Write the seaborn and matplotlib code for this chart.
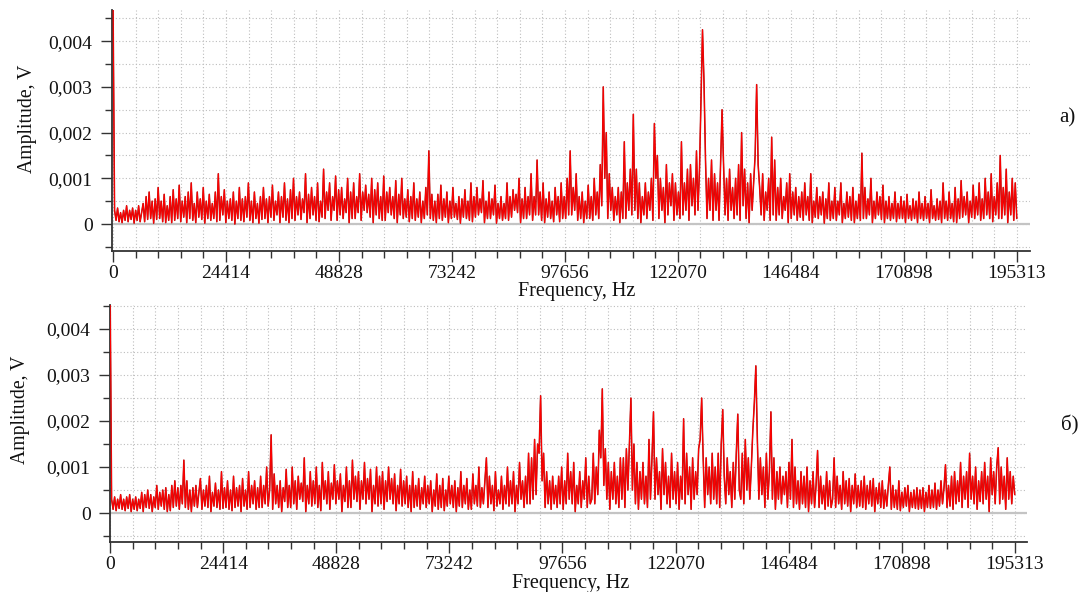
import numpy as np
import matplotlib
matplotlib.use("Agg")
import matplotlib.pyplot as plt
import seaborn as sns
from matplotlib.ticker import FixedLocator

# x axis: frequency bins 0 .. 195313 Hz, tick labels as in the original
f_max = 195313
tick_freqs = [0, 24414, 48828, 73242, 97656, 122070, 146484, 170898, 195313]
tick_freq_labels = [str(t) for t in tick_freqs]
amp_ticks = [0, 0.001, 0.002, 0.003, 0.004]
amp_tick_labels = ["0", "0,001", "0,002", "0,003", "0,004"]
panel_labels = ["a)", "б)"]

# spectrum a), amplitude in mV, evenly spaced bins (read off the picture)
amp_a_mv = [
    4.8, 0.3, 0.08, 0.35, 0.05, 0.25, 0.03, 0.3, 0.08, 0.4, 0.05, 0.3, 0.1, 0.35, 0.02, 0.3, 0.08, 0.4, 0.05, 0.25,
    0.45, 0.05, 0.6, 0.1, 0.7, 0.12, 0.5, 0.02, 0.55, 0.1, 0.8, 0.12, 0.5, 0.05, 0.65, 0.03, 0.4, 0.08, 0.6, 0.03,
    0.75, 0.08, 0.55, 0.12, 0.85, 0.05, 0.5, 0.15, 0.6, 0.03, 0.7, 0.12, 0.9, 0.08, 0.45, 0.03, 0.7, 0.15, 0.55, 0.1,
    0.8, 0.02, 0.5, 0.12, 0.65, 0.08, 0.45, 0.12, 0.7, 0.05, 1.1, 0.08, 0.6, 0.2, 0.75, 0.03, 0.5, 0.12, 0.55, 0.08,
    0.7, 0.0, 0.5, 0.12, 0.8, 0.08, 0.55, 0.05, 0.6, 0.15, 0.9, 0.08, 0.5, 0.03, 0.7, 0.12, 0.45, 0.02, 0.6, 0.1,
    0.8, 0.12, 0.55, 0.03, 0.6, 0.15, 0.85, 0.08, 0.5, 0.2, 0.7, 0.03, 0.6, 0.15, 0.9, 0.08, 0.55, 0.03, 0.75, 0.12,
    1.0, 0.08, 0.6, 0.2, 0.7, 0.1, 0.55, 0.25, 1.1, 0.03, 0.65, 0.12, 0.8, 0.2, 0.6, 0.08, 0.9, 0.05, 0.5, 0.15,
    1.2, 0.12, 0.7, 0.3, 0.9, 0.08, 0.6, 0.3, 1.05, 0.08, 0.75, 0.2, 0.8, 0.12, 0.55, 0.25, 1.0, 0.03, 0.7, 0.12,
    0.9, 0.12, 0.6, 0.25, 1.1, 0.08, 0.7, 0.3, 0.85, 0.25, 0.65, 0.15, 1.0, 0.03, 0.75, 0.2, 0.9, 0.12, 0.6, 0.08,
    1.05, 0.08, 0.7, 0.25, 0.8, 0.2, 0.6, 0.12, 0.95, 0.03, 0.65, 0.2, 1.0, 0.12, 0.55, 0.15, 0.75, 0.05, 0.6, 0.12,
    0.9, 0.08, 0.55, 0.15, 0.7, 0.03, 0.5, 0.12, 0.8, 0.2, 1.6, 0.12, 0.65, 0.08, 0.5, 0.03, 0.65, 0.12, 0.85, 0.08,
    0.55, 0.15, 0.7, 0.03, 0.5, 0.12, 0.8, 0.15, 0.45, 0.1, 0.6, 0.02, 0.55, 0.15, 0.75, 0.12, 0.5, 0.08, 0.9, 0.05,
    0.6, 0.15, 0.8, 0.2, 0.55, 0.25, 0.95, 0.03, 0.5, 0.12, 0.7, 0.12, 0.55, 0.2, 0.85, 0.02, 0.45, 0.12, 0.6, 0.08,
    0.45, 0.12, 0.9, 0.08, 0.6, 0.15, 0.75, 0.3, 0.65, 0.25, 1.0, 0.03, 0.55, 0.12, 0.8, 0.12, 0.6, 0.2, 1.1, 0.08,
    0.6, 0.2, 1.4, 0.2, 0.7, 0.08, 0.9, 0.03, 0.55, 0.15, 0.7, 0.12, 0.5, 0.05, 0.8, 0.2, 0.6, 0.05, 0.9, 0.12,
    0.6, 0.12, 1.0, 0.2, 1.6, 0.2, 0.8, 0.3, 1.1, 0.08, 0.6, 0.12, 0.7, 0.03, 0.5, 0.12, 0.85, 0.12, 0.6, 0.08,
    1.0, 0.2, 0.7, 0.12, 1.3, 0.4, 3.0, 1.0, 2.0, 0.12, 1.1, 0.3, 0.8, 0.08, 0.6, 0.2, 0.8, 0.03, 0.7, 0.12,
    1.8, 0.12, 0.9, 0.3, 1.2, 0.2, 2.4, 0.3, 1.2, 0.12, 0.9, 0.03, 0.6, 0.2, 0.9, 0.12, 0.7, 0.3, 1.0, 0.08,
    2.2, 1.0, 1.5, 0.12, 1.0, 0.3, 0.8, 0.03, 1.3, 0.2, 0.9, 0.4, 1.1, 0.08, 0.9, 0.2, 0.7, 0.12, 1.8, 0.2,
    0.9, 0.3, 1.2, 0.08, 1.3, 0.4, 1.0, 0.2, 1.6, 0.3, 1.2, 2.7, 4.25, 3.1, 1.4, 0.12, 1.0, 0.3, 1.4, 0.08,
    1.1, 0.3, 0.9, 0.08, 1.3, 2.5, 1.3, 0.2, 1.0, 0.08, 1.2, 0.3, 0.8, 0.12, 1.0, 0.2, 1.3, 0.08, 2.0, 0.4,
    1.2, 0.12, 0.9, 0.03, 1.1, 0.3, 0.9, 1.5, 3.05, 1.3, 0.8, 0.2, 1.1, 0.08, 0.7, 0.3, 1.0, 0.08, 1.9, 0.2,
    1.4, 0.08, 0.8, 0.2, 1.0, 0.12, 0.6, 0.3, 0.9, 0.03, 1.1, 0.12, 0.7, 0.2, 0.8, 0.08, 0.6, 0.15, 0.7, 0.08,
    0.9, 0.2, 0.6, 0.08, 1.1, 0.03, 0.5, 0.15, 0.8, 0.12, 0.6, 0.2, 0.7, 0.02, 0.55, 0.12, 0.9, 0.08, 0.5, 0.12,
    0.8, 0.08, 0.5, 0.2, 0.9, 0.03, 0.45, 0.12, 0.7, 0.15, 0.6, 0.08, 0.8, 0.03, 0.5, 0.12, 0.65, 0.08, 1.55, 0.12,
    0.8, 0.12, 0.55, 0.2, 1.0, 0.03, 0.5, 0.12, 0.7, 0.2, 0.6, 0.1, 0.85, 0.03, 0.5, 0.12, 0.6, 0.08, 0.45, 0.12,
    0.7, 0.05, 0.45, 0.12, 0.6, 0.12, 0.5, 0.03, 0.65, 0.12, 0.4, 0.08, 0.55, 0.12, 0.5, 0.03, 0.7, 0.12, 0.45, 0.08,
    0.6, 0.12, 0.45, 0.03, 0.75, 0.12, 0.4, 0.08, 0.55, 0.1, 0.5, 0.03, 0.9, 0.12, 0.5, 0.08, 0.7, 0.12, 0.45, 0.05,
    0.8, 0.03, 0.55, 0.12, 0.95, 0.15, 0.6, 0.2, 0.7, 0.03, 0.5, 0.15, 0.85, 0.12, 0.6, 0.2, 0.9, 0.08, 0.55, 0.12,
    1.0, 0.2, 0.7, 0.12, 1.1, 0.05, 0.6, 0.2, 0.9, 0.12, 1.5, 0.12, 0.8, 0.2, 1.2, 0.03, 0.7, 0.2, 1.0, 0.08,
    0.9, 0.12,
]

# spectrum б), amplitude in mV
amp_b_mv = [
    5.0, 0.3, 0.08, 0.35, 0.05, 0.3, 0.1, 0.4, 0.08, 0.3, 0.05, 0.35, 0.1, 0.4, 0.03, 0.3, 0.08, 0.35, 0.05, 0.3,
    0.1, 0.45, 0.03, 0.4, 0.12, 0.5, 0.1, 0.4, 0.03, 0.35, 0.12, 0.6, 0.08, 0.45, 0.15, 0.5, 0.08, 0.55, 0.03, 0.4,
    0.05, 0.6, 0.12, 0.7, 0.15, 0.55, 0.08, 0.6, 0.2, 1.15, 0.12, 0.7, 0.08, 0.5, 0.03, 0.55, 0.15, 0.6, 0.12, 0.45,
    0.75, 0.08, 0.5, 0.15, 0.6, 0.12, 0.8, 0.03, 0.45, 0.15, 0.65, 0.12, 0.5, 0.08, 0.9, 0.1, 0.55, 0.12, 0.7, 0.08,
    0.5, 0.05, 0.8, 0.12, 0.55, 0.15, 0.6, 0.03, 0.75, 0.15, 0.5, 0.08, 0.9, 0.12, 0.6, 0.2, 0.7, 0.08, 0.55, 0.12,
    0.8, 0.12, 0.6, 0.2, 1.0, 0.15, 0.5, 1.7, 0.08, 0.85, 0.2, 0.6, 0.12, 0.7, 0.03, 0.55, 0.25, 0.95, 0.12, 0.6,
    0.12, 1.0, 0.2, 0.7, 0.08, 0.8, 0.3, 0.65, 0.25, 1.2, 0.03, 0.6, 0.2, 0.9, 0.15, 0.7, 0.2, 1.0, 0.12, 0.6,
    0.05, 1.1, 0.3, 0.7, 0.2, 0.9, 0.08, 0.65, 0.3, 1.05, 0.2, 0.7, 0.3, 0.85, 0.03, 0.6, 0.25, 1.0, 0.12, 0.7,
    0.12, 1.15, 0.3, 0.8, 0.25, 0.9, 0.08, 0.7, 0.3, 1.1, 0.2, 0.75, 0.3, 0.95, 0.03, 0.6, 0.2, 1.0, 0.15, 0.8,
    0.2, 0.9, 0.08, 0.7, 0.25, 1.0, 0.3, 0.75, 0.2, 0.85, 0.05, 0.6, 0.2, 0.95, 0.15, 0.7, 0.2, 0.8, 0.12, 0.6,
    0.03, 0.9, 0.12, 0.6, 0.15, 0.75, 0.08, 0.55, 0.2, 0.8, 0.12, 0.6, 0.2, 0.7, 0.03, 0.5, 0.15, 0.85, 0.08, 0.6,
    0.12, 0.75, 0.05, 0.5, 0.15, 0.8, 0.2, 0.6, 0.12, 0.7, 0.03, 0.55, 0.15, 0.9, 0.12, 0.6, 0.2, 0.75, 0.08, 0.5,
    0.08, 0.85, 0.2, 0.6, 0.15, 1.0, 0.12, 0.55, 0.2, 0.7, 1.2, 0.12, 0.8, 0.2, 0.6, 0.05, 0.9, 0.15, 0.5, 0.2,
    0.8, 0.08, 0.6, 0.2, 1.0, 0.15, 0.7, 0.2, 0.9, 0.03, 0.6, 0.2, 1.1, 0.3, 0.7, 0.12, 0.8, 0.2, 1.3, 0.2,
    1.2, 0.3, 1.6, 0.4, 1.5, 1.3, 2.55, 0.7, 1.3, 0.12, 0.9, 0.2, 0.7, 0.08, 0.8, 0.2, 0.6, 0.12, 0.8, 0.2,
    1.0, 0.08, 0.7, 0.2, 1.3, 0.3, 0.9, 0.2, 1.1, 0.03, 0.6, 0.2, 0.9, 0.12, 0.7, 0.3, 1.2, 0.12, 0.8, 0.2,
    0.3, 1.3, 0.2, 1.0, 0.4, 1.8, 1.2, 2.7, 0.6, 1.4, 0.3, 1.1, 0.08, 0.9, 0.3, 1.1, 0.2, 0.8, 0.12, 1.2,
    0.3, 1.2, 0.12, 1.4, 0.5, 1.5, 2.5, 0.5, 1.5, 0.2, 1.1, 0.08, 0.9, 0.3, 1.1, 0.2, 0.8, 0.12, 1.6, 0.3,
    1.2, 2.2, 0.3, 1.2, 0.4, 0.9, 0.08, 1.4, 0.4, 1.1, 0.2, 0.8, 0.12, 1.3, 0.3, 0.9, 0.2, 1.1, 0.08, 0.8,
    0.3, 2.05, 0.2, 1.3, 0.4, 1.0, 0.08, 1.2, 0.3, 0.9, 0.4, 1.4, 1.6, 2.5, 1.2, 0.12, 1.2, 0.4, 1.0, 0.2,
    1.3, 0.3, 1.0, 0.2, 1.3, 0.12, 1.5, 2.25, 0.8, 0.2, 1.2, 0.4, 0.9, 0.12, 1.1, 0.3, 1.3, 2.15, 0.5, 0.3,
    1.3, 0.2, 1.6, 0.5, 1.2, 0.3, 1.0, 1.8, 2.4, 3.2, 1.6, 0.3, 1.2, 0.4, 1.0, 0.12, 1.3, 0.3, 0.9, 2.2,
    0.3, 1.2, 0.08, 0.9, 0.3, 1.0, 0.2, 0.8, 0.4, 0.9, 0.12, 1.1, 0.3, 1.6, 0.12, 1.0, 0.2, 0.7, 0.08, 0.9,
    0.2, 0.8, 0.12, 1.0, 0.03, 0.7, 0.2, 0.9, 0.12, 0.6, 1.36, 0.12, 0.8, 0.2, 0.6, 0.08, 0.9, 0.15, 0.7, 0.12,
    0.3, 1.2, 0.12, 0.8, 0.2, 0.6, 0.08, 0.9, 0.2, 0.7, 0.15, 0.75, 0.03, 0.6, 0.2, 0.85, 0.12, 0.6, 0.15, 0.7,
    0.12, 0.8, 0.08, 0.6, 0.2, 0.7, 0.15, 0.75, 0.03, 0.55, 0.2, 0.65, 0.12, 0.7, 0.1, 0.5, 0.15, 0.6, 1.0, 0.08,
    0.6, 0.12, 0.5, 0.08, 0.7, 0.05, 0.45, 0.12, 0.55, 0.15, 0.6, 0.03, 0.45, 0.12, 0.5, 0.1, 0.55, 0.08, 0.5, 0.1,
    0.55, 0.03, 0.45, 0.12, 0.6, 0.1, 0.5, 0.12, 0.65, 0.08, 0.5, 0.15, 0.7, 0.2, 0.55, 1.05, 0.12, 0.6, 0.15, 0.8,
    0.08, 0.9, 0.2, 0.7, 0.25, 1.1, 0.12, 0.8, 0.3, 0.9, 0.12, 1.3, 0.3, 0.8, 0.2, 1.0, 0.08, 0.7, 0.25, 0.9,
    0.2, 1.1, 0.3, 0.8, 0.03, 1.2, 0.4, 0.9, 0.2, 1.0, 1.42, 0.2, 1.0, 0.3, 0.8, 0.08, 1.2, 0.3, 0.9, 0.2,
    0.8, 0.4,
]

sns.set_theme(style="white")
plt.rcParams["font.family"] = ["Liberation Serif", "DejaVu Serif"]

fig = plt.figure(figsize=(10.81, 5.92), dpi=100)

ax_a = fig.add_axes([0.1036, 0.576, 0.849, 0.407])
ax_b = fig.add_axes([0.1018, 0.0845, 0.848, 0.400])

# (axes, data, xlim, ylim, ylabel pos, xlabel pos, panel label pixel pos)
panels = [
    (ax_a, amp_a_mv, (-230, 198120), (-0.00059, 0.00468),
     (-0.082, 0.548), (0.5065, -0.13), (1067, 118)),
    (ax_b, amp_b_mv, (-10, 197900), (-0.00063, 0.00452),
     (-0.087, 0.557), (0.503, -0.135), (1070, 425)),
]

minor_freqs = np.arange(0, f_max + 1, f_max / 40)
minor_amps = np.arange(-0.0005, 0.0046, 0.0005)

for (ax, amp_mv, xlim, ylim, ylab_pos, xlab_pos, lab_xy), lab in zip(panels, panel_labels):
    amp = np.array(amp_mv) * 1e-3
    freq = np.linspace(0, f_max, len(amp))

    ax.axhline(0, color="#c4c4c4", lw=1.6, zorder=1)
    sns.lineplot(x=freq, y=amp, ax=ax, color="#a31818", linewidth=1.1, zorder=2)
    sns.lineplot(x=freq, y=amp, ax=ax, color="#ff0000", linewidth=0.75, zorder=3)

    ax.set_xlim(*xlim)
    ax.set_ylim(*ylim)
    ax.set_xticks(tick_freqs)
    ax.set_xticklabels(tick_freq_labels, fontsize=14)
    ax.set_yticks(amp_ticks)
    ax.set_yticklabels(amp_tick_labels, fontsize=14)
    ax.xaxis.set_minor_locator(FixedLocator(minor_freqs))
    ax.yaxis.set_minor_locator(FixedLocator(minor_amps))

    ax.grid(which="both", linestyle=(0, (1, 2)), color="#bdbdbd", linewidth=0.8)
    ax.set_axisbelow(True)

    for side in ["top", "right"]:
        ax.spines[side].set_visible(False)
    for side in ["left", "bottom"]:
        ax.spines[side].set_color("#333333")
        ax.spines[side].set_linewidth(1.3)

    ax.tick_params(bottom=True, left=True, which="both")
    ax.tick_params(axis="x", which="major", direction="out", length=8, width=1.0,
                   color="#333333", pad=2, labelcolor="#111111")
    ax.tick_params(axis="x", which="minor", direction="out", length=5, width=1.0,
                   color="#333333")
    ax.tick_params(axis="y", which="major", direction="out", length=8, width=1.0,
                   color="#333333", pad=6, labelcolor="#111111")
    ax.tick_params(axis="y", which="minor", direction="out", length=5, width=1.0,
                   color="#333333")

    ax.set_xlabel("Frequency, Hz", fontsize=14.5, color="#111111", va="top")
    ax.set_ylabel("Amplitude, V", fontsize=14.2, color="#111111")
    ax.xaxis.set_label_coords(*xlab_pos)
    ax.yaxis.set_label_coords(*ylab_pos)

    fig.text(lab_xy[0] / 1081, 1 - lab_xy[1] / 592, lab, fontsize=15,
             ha="center", va="center", color="#111111")

fig.savefig("out.png", dpi=100)
